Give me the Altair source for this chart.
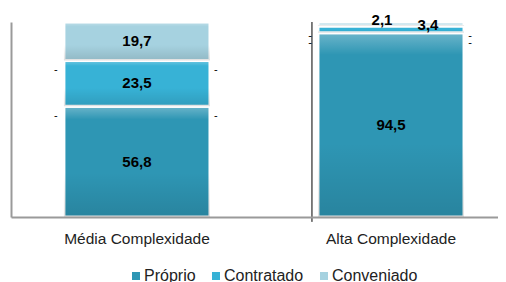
import altair as alt
import pandas as pd

categories = ["Média Complexidade", "Alta Complexidade"]
series = ["Próprio", "Contratado", "Conveniado"]
proprio = [56.8, 94.5]
contratado = [23.5, 3.4]
conveniado = [19.7, 2.1]
colors = ["#2E96B4", "#37B2D6", "#A6D2E0"]

rows = []
for s_i, (s, vals) in enumerate(zip(series, [proprio, contratado, conveniado])):
    for c, v in zip(categories, vals):
        rows.append({"cat": c, "serie": s, "ord": s_i, "value": v,
                     "label": f"{v:.1f}".replace(".", ",")})
df = pd.DataFrame(rows)

FONT = "Liberation Sans"

xscale = alt.Scale(domain=categories, paddingInner=0.425, paddingOuter=0.171, align=0.609)
yscale = alt.Scale(domain=[0, 100], nice=False)
X = alt.X("cat:N", scale=xscale, sort=categories)

base = alt.Chart(df).transform_stack(
    stack="value", as_=["y0", "y1"], groupby=["cat"], sort=[alt.SortField("ord")]
).transform_calculate(mid="(datum.y0 + datum.y1) / 2")

bars = base.mark_bar(stroke="white", strokeWidth=3).encode(
    x=alt.X("cat:N", scale=xscale, sort=categories,
            axis=alt.Axis(title=None, labelAngle=0, ticks=False, labelPadding=14,
                          labelFontSize=15.5, labelFont=FONT, labelColor="#222222",
                          domainColor="#9a9a9a", domainWidth=2, zindex=1)),
    y=alt.Y("y0:Q", scale=yscale,
            axis=alt.Axis(title=None, labels=False, ticks=False, grid=False,
                          domainColor="#9a9a9a", domainWidth=2, zindex=1)),
    y2="y1:Q",
    color=alt.Color("serie:N", scale=alt.Scale(domain=series, range=colors),
                    legend=alt.Legend(title=None, orient="none", direction="horizontal",
                                      legendX=117, legendY=246, padding=0,
                                      symbolType="square",
                                      symbolSize=64, symbolStrokeWidth=0,
                                      labelFontSize=16, labelFont=FONT,
                                      labelColor="#222222", columnPadding=12,
                                      labelOffset=0)),
)

shade = base.mark_bar(
    strokeWidth=0,
    fill=alt.Gradient(
        gradient="linear", x1=0, y1=0, x2=0, y2=1,
        stops=[alt.GradientStop(color="rgba(255,255,255,0.30)", offset=0),
               alt.GradientStop(color="rgba(255,255,255,0.0)", offset=0.12),
               alt.GradientStop(color="rgba(0,0,0,0.0)", offset=0.6),
               alt.GradientStop(color="rgba(0,0,0,0.12)", offset=1)],
    ),
).encode(x=X, y=alt.Y("y0:Q", scale=yscale), y2="y1:Q")

big = base.transform_filter("datum.value >= 10").mark_text(
    fontWeight="bold", fontSize=15, font=FONT, color="black"
).encode(x=X, y=alt.Y("mid:Q", scale=yscale), text="label:N")

conv_lbl = base.transform_filter(
    "datum.value < 10 && datum.serie == 'Conveniado'"
).mark_text(fontWeight="bold", fontSize=15, font=FONT, color="black", dx=-9, dy=-2).encode(
    x=X, y=alt.Y("y1:Q", scale=yscale), text="label:N")

contr_lbl = base.transform_filter(
    "datum.value < 10 && datum.serie == 'Contratado'"
).mark_text(fontWeight="bold", fontSize=15, font=FONT, color="black", dx=37, dy=-1).encode(
    x=X, y=alt.Y("y1:Q", scale=yscale), text="label:N")

dash_l = base.transform_filter("datum.serie != 'Conveniado'").mark_text(
    text="-", fontSize=11, font=FONT, color="black", dx=-81, dy=10
).encode(x=X, y=alt.Y("y1:Q", scale=yscale))

dash_r = base.transform_filter("datum.serie != 'Conveniado'").mark_text(
    text="-", fontSize=11, font=FONT, color="black", dx=79, dy=10
).encode(x=X, y=alt.Y("y1:Q", scale=yscale))

vline = alt.Chart(pd.DataFrame({"cat": [categories[1]]})).mark_rule(
    color="black", strokeWidth=1, xOffset=-6
).encode(
    x=alt.X("cat:N", scale=xscale, sort=categories, bandPosition=0),
    y=alt.datum(100), y2=alt.datum(-2.5),
)

chart = alt.layer(bars, shade, vline, big, conv_lbl, contr_lbl, dash_l, dash_r).properties(
    width=487, height=195,
    padding={"left": 3, "top": 14, "right": 0, "bottom": 65},
    autosize=alt.AutoSizeParams(type="none"),
).configure_view(stroke=None)

chart.save("out.html", embed_options={"renderer": "svg", "actions": False})
